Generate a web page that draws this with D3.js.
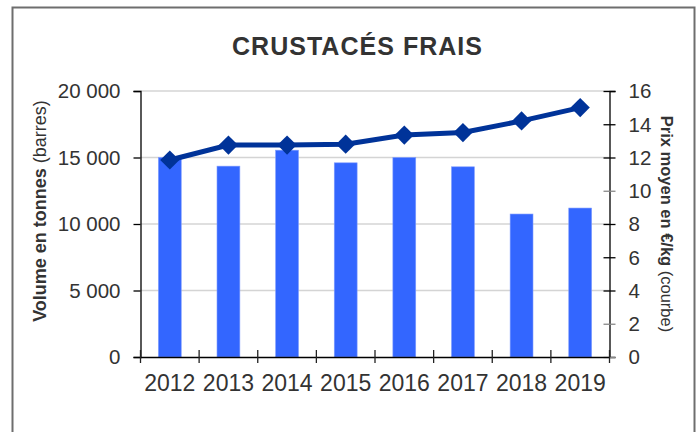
<!DOCTYPE html>
<html>
<head>
<meta charset="utf-8">
<script src="https://cdn.jsdelivr.net/npm/d3@7"></script>
<style>
  body { margin: 0; background: #fff; }
  svg { font-family: "Liberation Sans", Arial, sans-serif; }
</style>
</head>
<body>
<div id="chart"></div>
<script>
// données
const years = ['2012', '2013', '2014', '2015', '2016', '2017', '2018', '2019'];
const volumes = [15000, 14350, 15550, 14600, 15000, 14300, 10750, 11200];
const prices = [11.85, 12.75, 12.75, 12.8, 13.35, 13.5, 14.2, 15.0];
const volumeTicks = [0, 5000, 10000, 15000, 20000];
const priceTicks = [0, 2, 4, 6, 8, 10, 12, 14, 16];

const width = 700;
const height = 432;
const plotLeft = 140.5, plotRight = 609.5, plotTop = 91, plotBottom = 357;

const svg = d3.select('#chart').append('svg')
  .attr('width', width)
  .attr('height', height);

// cadre
svg.append('rect')
  .attr('x', 12.5).attr('y', 7.5)
  .attr('width', 682).attr('height', 440)
  .attr('fill', 'none')
  .attr('stroke', '#6e6e6e')
  .attr('stroke-width', 2);

const x = d3.scaleBand().domain(years).range([plotLeft, plotRight]).padding(0);
const yVol = d3.scaleLinear().domain([0, 20000]).range([plotBottom, plotTop]);
const yPrice = d3.scaleLinear().domain([0, 16]).range([plotBottom, plotTop]);

const fmt = (d) => d3.format(',')(d).replace(',', ' ');

// grille
svg.append('g').selectAll('line').data(volumeTicks.slice(1))
  .enter().append('line')
  .attr('x1', plotLeft).attr('x2', plotRight)
  .attr('y1', (d) => yVol(d)).attr('y2', (d) => yVol(d))
  .attr('stroke', '#d4d4d4')
  .attr('stroke-width', 1.5);

// barres
const barW = x.bandwidth() * 0.39;
svg.append('g').selectAll('rect').data(volumes)
  .enter().append('rect')
  .attr('x', (d, i) => x(years[i]) + x.bandwidth() / 2 - barW / 2)
  .attr('y', (d) => yVol(d))
  .attr('width', barW)
  .attr('height', (d) => plotBottom - yVol(d))
  .attr('fill', '#3366ff')
  .attr('stroke', '#7f9cff')
  .attr('stroke-width', 0.6);

// axe gauche
const axisLeft = svg.append('g')
  .attr('transform', `translate(${plotLeft},0)`)
  .call(d3.axisLeft(yVol).tickValues(volumeTicks).tickSize(7).tickPadding(13).tickFormat(fmt));
axisLeft.select('.domain').attr('stroke', '#000').attr('stroke-width', 1.3);
axisLeft.selectAll('.tick line').attr('stroke', '#000').attr('stroke-width', 1.3);
axisLeft.selectAll('.tick text')
  .attr('font-size', 20.5)
  .attr('fill', '#333')
  .attr('dy', '0.34em')
  .attr('font-family', '"Liberation Sans", Arial, sans-serif');

// axe droit
const axisRight = svg.append('g')
  .attr('transform', `translate(${plotRight},0)`)
  .call(d3.axisRight(yPrice).tickValues(priceTicks).tickSize(6).tickPadding(13));
axisRight.select('.domain').attr('stroke', '#000').attr('stroke-width', 1.3);
axisRight.selectAll('.tick line')
  .attr('x1', -6)
  .attr('stroke', (d) => (d === 10 || d === 2 || d === 0) ? '#888' : '#000')
  .attr('stroke-width', 1.3);
axisRight.selectAll('.tick text')
  .attr('font-size', 20.5)
  .attr('fill', '#333')
  .attr('dy', '0.34em')
  .attr('font-family', '"Liberation Sans", Arial, sans-serif');

// axe du bas
const axisBottom = svg.append('g')
  .attr('transform', `translate(0,${plotBottom})`)
  .call(d3.axisBottom(x).tickSize(0).tickPadding(18));
axisBottom.select('.domain').attr('stroke', '#000').attr('stroke-width', 1.5);
axisBottom.selectAll('.tick text')
  .attr('font-size', 23)
  .attr('fill', '#333')
  .attr('dy', '0.71em')
  .attr('font-family', '"Liberation Sans", Arial, sans-serif');

// graduations entre catégories
const bounds = years.map((d) => x(d)).concat([plotRight]);
svg.append('g').selectAll('line').data(bounds)
  .enter().append('line')
  .attr('x1', (d) => d).attr('x2', (d) => d)
  .attr('y1', plotBottom - 7).attr('y2', plotBottom + 6)
  .attr('stroke', '#222')
  .attr('stroke-width', 1.3);

// courbe des prix
const line = d3.line()
  .x((d, i) => x(years[i]) + x.bandwidth() / 2)
  .y((d) => yPrice(d));

svg.append('path')
  .datum(prices)
  .attr('d', line)
  .attr('fill', 'none')
  .attr('stroke', '#003399')
  .attr('stroke-width', 5);

svg.append('g').selectAll('path').data(prices)
  .enter().append('path')
  .attr('d', d3.symbol().type(d3.symbolSquare).size(185))
  .attr('transform', (d, i) => `translate(${x(years[i]) + x.bandwidth() / 2},${yPrice(d)}) rotate(45)`)
  .attr('fill', '#003399');

// titre
svg.append('text')
  .attr('x', 357).attr('y', 54.5)
  .attr('text-anchor', 'middle')
  .attr('font-size', 25)
  .attr('font-weight', 'bold')
  .attr('fill', '#333')
  .attr('textLength', 250)
  .text('CRUSTACÉS FRAIS');

// titres des axes
const leftTitle = svg.append('text')
  .attr('transform', 'translate(46,211) rotate(-90)')
  .attr('text-anchor', 'middle')
  .attr('font-size', 18)
  .attr('fill', '#333');
leftTitle.append('tspan').attr('font-weight', 'bold').text('Volume en tonnes');
leftTitle.append('tspan').text(' (barres)');

const rightTitle = svg.append('text')
  .attr('transform', 'translate(661,224) rotate(90)')
  .attr('text-anchor', 'middle')
  .attr('font-size', 16.5)
  .attr('fill', '#333');
rightTitle.append('tspan').attr('font-weight', 'bold').text('Prix moyen en €/kg');
rightTitle.append('tspan').text(' (courbe)');
</script>
</body>
</html>
